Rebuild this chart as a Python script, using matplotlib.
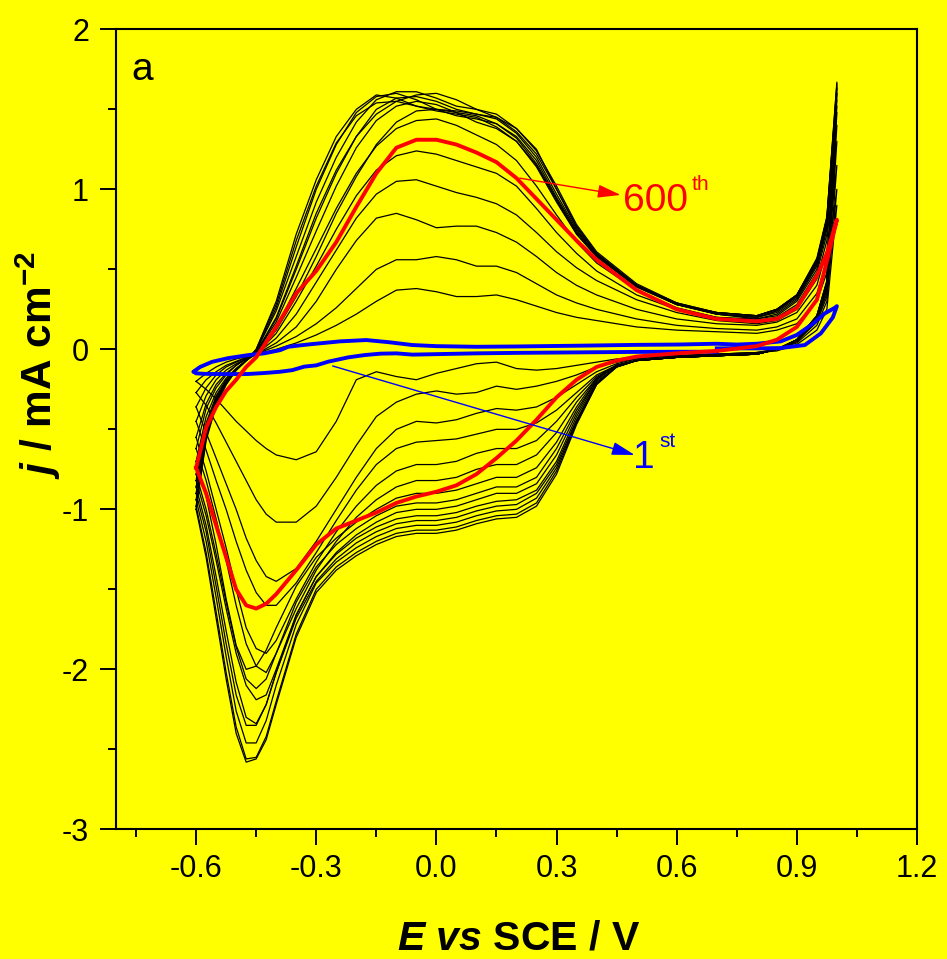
import numpy as np
import matplotlib.pyplot as plt
from matplotlib.ticker import MultipleLocator

plt.rcParams['font.family'] = ['Liberation Sans', 'DejaVu Sans']
plt.rcParams['axes.unicode_minus'] = False
plt.rcParams['mathtext.fontset'] = 'custom'
plt.rcParams['mathtext.rm'] = 'Liberation Sans:bold'
plt.rcParams['mathtext.bf'] = 'Liberation Sans:bold'
plt.rcParams['mathtext.it'] = 'Liberation Sans:italic:bold'

# potential grids for the anodic (forward) and cathodic (reverse) sweeps
E_fwd = [-0.6, -0.575, -0.55, -0.525, -0.5, -0.475, -0.45, -0.4, -0.35, -0.3, -0.25, -0.2,
         -0.15, -0.1, -0.05, 0.0, 0.05, 0.1, 0.15, 0.2, 0.25, 0.3, 0.35, 0.4, 0.5, 0.6, 0.7,
         0.8, 0.85, 0.9, 0.95, 0.975, 1.0]
E_rev = [1.0, 0.975, 0.95, 0.9, 0.85, 0.8, 0.7, 0.6, 0.5, 0.45, 0.4, 0.35, 0.3, 0.25, 0.2,
         0.15, 0.1, 0.05, 0.0, -0.05, -0.1, -0.15, -0.2, -0.25, -0.3, -0.35, -0.4, -0.425,
         -0.45, -0.475, -0.5, -0.525, -0.55, -0.575, -0.6]

# intermediate cycles (black), current density in mA cm-2
cycles_fwd = [
    [-0.2, -0.15, -0.11, -0.08, -0.06, -0.045, -0.03, 0.0, 0.04, 0.09, 0.15, 0.22, 0.3, 0.37, 0.38, 0.36, 0.33, 0.33, 0.34, 0.31, 0.27, 0.23, 0.2, 0.18, 0.14, 0.12, 0.11, 0.1, 0.12, 0.16, 0.3, 0.48, 0.9],
    [-0.27, -0.19, -0.14, -0.1, -0.075, -0.05, -0.03, 0.02, 0.08, 0.16, 0.26, 0.38, 0.5, 0.56, 0.56, 0.58, 0.56, 0.52, 0.52, 0.48, 0.41, 0.34, 0.29, 0.25, 0.19, 0.15, 0.13, 0.12, 0.14, 0.19, 0.35, 0.55, 1.0],
    [-0.36, -0.24, -0.16, -0.11, -0.08, -0.055, -0.03, 0.04, 0.14, 0.3, 0.5, 0.68, 0.82, 0.85, 0.81, 0.76, 0.77, 0.77, 0.73, 0.67, 0.58, 0.48, 0.4, 0.34, 0.25, 0.19, 0.16, 0.15, 0.17, 0.23, 0.4, 0.62, 1.15],
    [-0.45, -0.29, -0.19, -0.13, -0.09, -0.06, -0.03, 0.07, 0.22, 0.42, 0.62, 0.82, 0.97, 1.05, 1.06, 1.02, 0.98, 0.95, 0.91, 0.84, 0.73, 0.61, 0.51, 0.43, 0.31, 0.23, 0.18, 0.16, 0.18, 0.25, 0.44, 0.68, 1.3],
    [-0.55, -0.34, -0.22, -0.15, -0.1, -0.06, -0.03, 0.1, 0.3, 0.52, 0.75, 0.96, 1.12, 1.21, 1.24, 1.22, 1.18, 1.14, 1.1, 1.02, 0.88, 0.73, 0.6, 0.49, 0.34, 0.25, 0.2, 0.18, 0.2, 0.28, 0.48, 0.72, 1.4],
    [-0.62, -0.37, -0.24, -0.16, -0.1, -0.06, -0.02, 0.14, 0.38, 0.63, 0.88, 1.1, 1.27, 1.38, 1.43, 1.44, 1.4, 1.34, 1.28, 1.18, 1.02, 0.84, 0.67, 0.54, 0.37, 0.26, 0.2, 0.19, 0.21, 0.3, 0.5, 0.75, 1.48],
    [-0.7, -0.42, -0.27, -0.18, -0.12, -0.07, -0.03, 0.12, 0.33, 0.58, 0.85, 1.08, 1.28, 1.42, 1.49, 1.5, 1.49, 1.47, 1.45, 1.38, 1.25, 1.0, 0.76, 0.6, 0.4, 0.28, 0.22, 0.19, 0.22, 0.31, 0.52, 0.77, 1.52],
    [-0.78, -0.46, -0.29, -0.19, -0.12, -0.07, -0.02, 0.17, 0.45, 0.74, 1.02, 1.26, 1.43, 1.52, 1.55, 1.53, 1.48, 1.42, 1.38, 1.3, 1.15, 0.93, 0.72, 0.58, 0.39, 0.28, 0.22, 0.2, 0.23, 0.32, 0.53, 0.78, 1.56],
    [-0.82, -0.48, -0.3, -0.2, -0.13, -0.07, -0.02, 0.19, 0.5, 0.82, 1.1, 1.33, 1.5, 1.57, 1.58, 1.55, 1.5, 1.47, 1.44, 1.35, 1.2, 0.97, 0.75, 0.59, 0.4, 0.28, 0.22, 0.2, 0.24, 0.33, 0.54, 0.79, 1.6],
    [-0.86, -0.5, -0.31, -0.2, -0.13, -0.07, -0.02, 0.2, 0.52, 0.85, 1.12, 1.33, 1.47, 1.55, 1.59, 1.6, 1.56, 1.5, 1.45, 1.36, 1.22, 1.0, 0.77, 0.6, 0.4, 0.29, 0.22, 0.2, 0.24, 0.33, 0.55, 0.8, 1.63],
    [-0.9, -0.52, -0.32, -0.21, -0.13, -0.07, -0.01, 0.24, 0.58, 0.92, 1.2, 1.42, 1.56, 1.61, 1.61, 1.57, 1.52, 1.5, 1.47, 1.38, 1.24, 1.02, 0.78, 0.61, 0.41, 0.29, 0.23, 0.21, 0.25, 0.34, 0.56, 0.82, 1.66],
    [-0.94, -0.54, -0.33, -0.21, -0.13, -0.07, -0.01, 0.26, 0.64, 1.0, 1.28, 1.48, 1.58, 1.6, 1.56, 1.5, 1.46, 1.44, 1.41, 1.33, 1.18, 0.95, 0.74, 0.59, 0.4, 0.29, 0.23, 0.21, 0.25, 0.34, 0.57, 0.83, 1.67],
    [-0.98, -0.56, -0.34, -0.22, -0.13, -0.07, 0.0, 0.3, 0.72, 1.06, 1.33, 1.5, 1.59, 1.57, 1.52, 1.49, 1.47, 1.45, 1.39, 1.3, 1.14, 0.92, 0.72, 0.58, 0.39, 0.28, 0.23, 0.21, 0.25, 0.34, 0.56, 0.82, 1.64],
    [-1.0, -0.57, -0.35, -0.22, -0.13, -0.07, 0.0, 0.28, 0.68, 1.02, 1.29, 1.46, 1.54, 1.55, 1.52, 1.5, 1.48, 1.46, 1.41, 1.32, 1.16, 0.94, 0.73, 0.59, 0.4, 0.28, 0.23, 0.21, 0.25, 0.34, 0.55, 0.8, 1.6],
]
cycles_rev = [
    [0.9, 0.25, 0.12, 0.03, -0.01, -0.02, -0.03, -0.04, -0.05, -0.06, -0.08, -0.1, -0.12, -0.13, -0.12, -0.08, -0.09, -0.12, -0.15, -0.19, -0.17, -0.14, -0.19, -0.45, -0.64, -0.69, -0.66, -0.62, -0.57, -0.51, -0.45, -0.38, -0.31, -0.25, -0.2],
    [1.0, 0.3, 0.15, 0.04, 0.0, -0.02, -0.03, -0.04, -0.06, -0.08, -0.11, -0.16, -0.2, -0.23, -0.25, -0.23, -0.27, -0.28, -0.26, -0.28, -0.33, -0.42, -0.6, -0.8, -0.98, -1.08, -1.08, -1.03, -0.94, -0.82, -0.7, -0.58, -0.46, -0.35, -0.27],
    [1.15, 0.33, 0.17, 0.05, 0.0, -0.02, -0.03, -0.04, -0.06, -0.09, -0.14, -0.22, -0.3, -0.36, -0.38, -0.37, -0.4, -0.44, -0.46, -0.45, -0.5, -0.62, -0.8, -1.0, -1.2, -1.37, -1.45, -1.42, -1.32, -1.18, -1.0, -0.84, -0.68, -0.52, -0.36],
    [1.3, 0.35, 0.18, 0.05, 0.0, -0.03, -0.04, -0.05, -0.07, -0.1, -0.16, -0.27, -0.38, -0.46, -0.5, -0.5, -0.53, -0.56, -0.57, -0.58, -0.62, -0.72, -0.88, -1.07, -1.27, -1.46, -1.6, -1.6, -1.52, -1.38, -1.2, -1.0, -0.82, -0.63, -0.45],
    [1.4, 0.37, 0.19, 0.05, 0.0, -0.03, -0.04, -0.05, -0.07, -0.1, -0.17, -0.3, -0.45, -0.57, -0.62, -0.62, -0.65, -0.7, -0.72, -0.72, -0.76, -0.85, -0.98, -1.14, -1.33, -1.56, -1.82, -1.9, -1.87, -1.74, -1.5, -1.24, -1.0, -0.76, -0.55],
    [1.48, 0.38, 0.19, 0.05, 0.0, -0.03, -0.04, -0.05, -0.07, -0.1, -0.18, -0.33, -0.52, -0.66, -0.72, -0.72, -0.75, -0.8, -0.82, -0.82, -0.86, -0.94, -1.05, -1.2, -1.38, -1.62, -1.9, -2.02, -1.98, -1.84, -1.6, -1.32, -1.06, -0.82, -0.62],
    [1.52, 0.39, 0.2, 0.06, 0.0, -0.03, -0.04, -0.05, -0.07, -0.1, -0.18, -0.36, -0.58, -0.74, -0.8, -0.8, -0.84, -0.88, -0.9, -0.9, -0.93, -1.0, -1.08, -1.18, -1.3, -1.48, -1.74, -1.88, -1.98, -2.0, -1.85, -1.56, -1.22, -0.92, -0.7],
    [1.56, 0.4, 0.2, 0.06, 0.0, -0.03, -0.04, -0.05, -0.07, -0.1, -0.19, -0.38, -0.62, -0.8, -0.86, -0.86, -0.9, -0.94, -0.96, -0.96, -0.98, -1.04, -1.12, -1.22, -1.36, -1.58, -1.9, -2.06, -2.12, -2.06, -1.86, -1.58, -1.28, -1.0, -0.78],
    [1.6, 0.41, 0.2, 0.06, 0.0, -0.03, -0.04, -0.05, -0.07, -0.1, -0.19, -0.4, -0.66, -0.84, -0.9, -0.9, -0.94, -0.98, -1.0, -1.0, -1.02, -1.08, -1.16, -1.27, -1.42, -1.66, -2.0, -2.16, -2.19, -2.1, -1.9, -1.62, -1.32, -1.04, -0.82],
    [1.63, 0.42, 0.21, 0.06, 0.0, -0.03, -0.04, -0.05, -0.07, -0.11, -0.2, -0.42, -0.7, -0.88, -0.94, -0.95, -0.98, -1.02, -1.04, -1.04, -1.06, -1.11, -1.18, -1.28, -1.42, -1.66, -2.02, -2.22, -2.34, -2.3, -2.08, -1.76, -1.42, -1.1, -0.86],
    [1.66, 0.42, 0.21, 0.06, 0.0, -0.03, -0.04, -0.05, -0.07, -0.11, -0.21, -0.44, -0.72, -0.9, -0.97, -0.98, -1.01, -1.05, -1.07, -1.07, -1.09, -1.14, -1.21, -1.31, -1.45, -1.68, -2.02, -2.22, -2.35, -2.35, -2.16, -1.84, -1.48, -1.14, -0.9],
    [1.67, 0.43, 0.21, 0.06, 0.0, -0.03, -0.04, -0.05, -0.07, -0.11, -0.21, -0.45, -0.74, -0.93, -1.0, -1.01, -1.04, -1.08, -1.1, -1.1, -1.12, -1.17, -1.24, -1.33, -1.46, -1.72, -2.1, -2.32, -2.46, -2.46, -2.26, -1.92, -1.55, -1.2, -0.94],
    [1.64, 0.42, 0.21, 0.06, 0.0, -0.03, -0.04, -0.05, -0.07, -0.11, -0.22, -0.46, -0.76, -0.96, -1.03, -1.04, -1.07, -1.11, -1.13, -1.13, -1.15, -1.2, -1.27, -1.36, -1.5, -1.78, -2.2, -2.42, -2.55, -2.56, -2.36, -2.02, -1.64, -1.27, -0.98],
    [1.6, 0.41, 0.2, 0.06, 0.0, -0.03, -0.04, -0.05, -0.07, -0.11, -0.22, -0.47, -0.78, -0.98, -1.05, -1.06, -1.09, -1.13, -1.15, -1.15, -1.17, -1.22, -1.29, -1.38, -1.52, -1.8, -2.22, -2.44, -2.56, -2.58, -2.4, -2.06, -1.68, -1.3, -1.0],
]

# 600th cycle (red)
j600_fwd = [-0.74, -0.49, -0.36, -0.26, -0.19, -0.11, -0.05, 0.14, 0.35, 0.49, 0.67, 0.89, 1.1, 1.26, 1.31, 1.31, 1.28, 1.23, 1.17, 1.07, 0.94, 0.81, 0.68, 0.56, 0.37, 0.25, 0.19, 0.175, 0.19, 0.26, 0.46, 0.6, 0.81]
j600_rev = [0.81, 0.55, 0.31, 0.14, 0.06, 0.02, -0.01, -0.025, -0.045, -0.07, -0.11, -0.19, -0.3, -0.44, -0.57, -0.68, -0.78, -0.85, -0.89, -0.92, -0.96, -1.02, -1.07, -1.12, -1.22, -1.38, -1.53, -1.59, -1.62, -1.6, -1.5, -1.3, -1.1, -0.9, -0.74]

# 1st cycle (blue), started at 0.7 V
E_1st = [0.7, 0.8, 0.86, 0.92, 0.96, 0.99, 1.0, 0.995, 0.97, 0.94, 0.9, 0.86, 0.8, 0.75, 0.7,
         0.6, 0.5, 0.36, 0.2, 0.1, 0.0, -0.06, -0.12, -0.175, -0.24, -0.31, -0.34, -0.37, -0.39,
         -0.43, -0.47, -0.52, -0.56, -0.59, -0.607, -0.6, -0.58, -0.56, -0.52, -0.47, -0.43, -0.39,
         -0.36, -0.33, -0.3, -0.27, -0.22, -0.18, -0.14, -0.1, -0.06, 0.0, 0.1, 0.2, 0.3, 0.4, 0.5,
         0.6, 0.7]
j_1st = [0.006, 0.006, 0.008, 0.027, 0.1, 0.2, 0.27, 0.26, 0.225, 0.16, 0.09, 0.05, 0.035, 0.03, 0.035,
         0.03, 0.028, 0.023, 0.018, 0.016, 0.02, 0.027, 0.045, 0.058, 0.05, 0.033, 0.025, 0.016, -0.005,
         -0.025, -0.036, -0.055, -0.078, -0.11, -0.14, -0.15, -0.153, -0.154, -0.155, -0.154, -0.148, -0.14,
         -0.13, -0.108, -0.1, -0.077, -0.05, -0.036, -0.027, -0.025, -0.033, -0.03, -0.025, -0.022, -0.02,
         -0.018, -0.016, -0.015, -0.015]

yellow = '#ffff00'
fig = plt.figure(figsize=(9.47, 9.59), dpi=100, facecolor=yellow)
ax = fig.add_axes([0.1225, 0.1352, 0.8458, 0.8342], facecolor=yellow)

E_loop = np.r_[E_fwd, E_rev]
for f, r in zip(cycles_fwd, cycles_rev):
    ax.plot(E_loop, np.r_[f, r], color='black', lw=0.9, solid_joinstyle='round')
ax.plot(E_1st, j_1st, color='#0000ff', lw=2.8, solid_joinstyle='round')
ax.plot(E_loop, np.r_[j600_fwd, j600_rev], color='#ff0000', lw=2.8, solid_joinstyle='round')

ax.set_xlim(-0.8, 1.2)
ax.set_ylim(-3, 2)
ax.xaxis.set_minor_locator(MultipleLocator(0.15))
ax.yaxis.set_minor_locator(MultipleLocator(0.5))
ax.set_xticks([-0.6, -0.3, 0.0, 0.3, 0.6, 0.9, 1.2])
ax.set_xticklabels(['-0.6', '-0.3', '0.0', '0.3', '0.6', '0.9', '1.2'])
ax.set_yticks([-3, -2, -1, 0, 1, 2])
ax.set_yticklabels(['-3', '-2', '-1', '0', '1', '2'])
ax.tick_params(which='major', direction='out', length=11.5, width=1.4, labelsize=22, pad=6)
ax.tick_params(which='minor', direction='out', length=5.8, width=1.4)
ax.tick_params(axis='y', which='major', pad=8)
for sp in ax.spines.values():
    sp.set_linewidth(1.5)

fig.text(0.5475, 0.0094, r'$E$ $vs$ SCE / V', fontsize=29.5, fontweight='bold',
         ha='center', va='baseline')
fig.text(0.040, 0.619, r'$j$ / mA cm$^{\mathrm{-2}}$', fontsize=30.5, fontweight='bold',
         rotation=90, ha='center', va='center')

ax.text(0.019, 0.937, 'a', transform=ax.transAxes, fontsize=28, va='baseline')

arrow = dict(arrowstyle='-|>,head_length=1.4,head_width=0.4', lw=1.0,
             mutation_scale=10, shrinkA=0, shrinkB=0)
ax.annotate('', xy=(0.46, 0.965), xytext=(0.208, 1.07),
            arrowprops=dict(arrow, color='#ff0000'))
ax.text(0.465, 0.863, '600', color='#ff0000', fontsize=28, va='baseline')
ax.text(0.638, 0.996, 'th', color='#ff0000', fontsize=15, va='baseline')

ax.annotate('', xy=(0.495, -0.66), xytext=(-0.259, -0.104),
            arrowprops=dict(arrow, color='#0000ff'))
ax.text(0.492, -0.742, '1', color='#0000ff', fontsize=28, va='baseline')
ax.text(0.557, -0.61, 'st', color='#0000ff', fontsize=15, va='baseline')

fig.savefig('out.png', dpi=100, facecolor=yellow)
